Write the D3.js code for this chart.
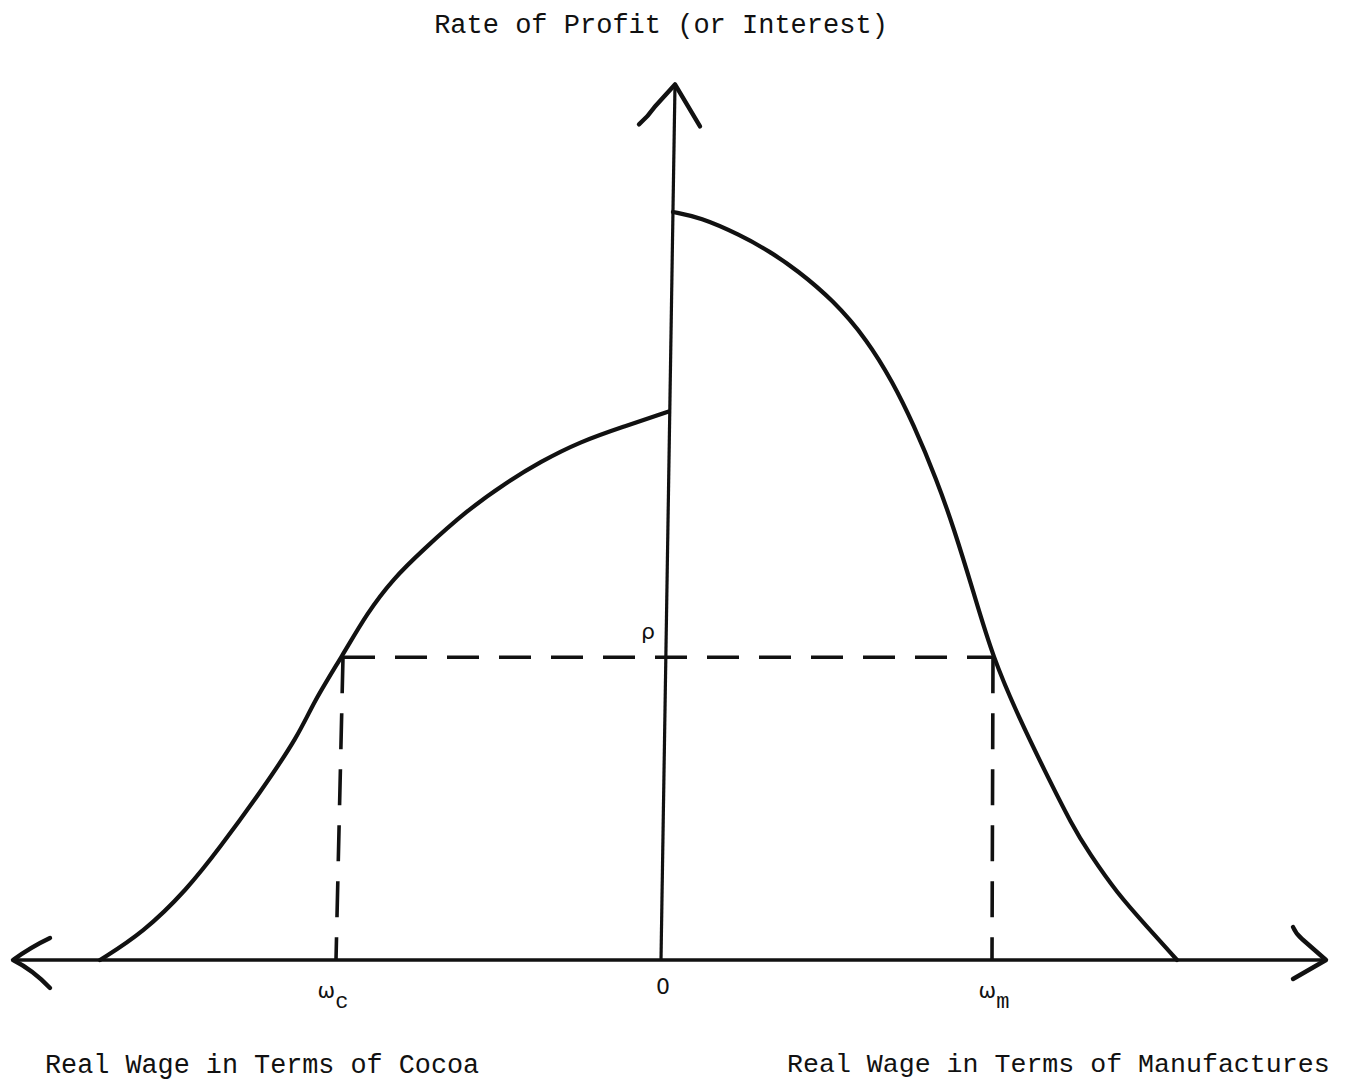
<!DOCTYPE html>
<html>
<head>
<meta charset="utf-8">
<script src="https://cdn.jsdelivr.net/npm/d3@7.9.0/dist/d3.min.js"></script>
<style>
  html, body { margin: 0; padding: 0; background: #fff; }
  svg { display: block; }
  text { font-family: "Liberation Mono", "DejaVu Sans Mono", monospace; fill: #111; }
  .greek { font-family: "DejaVu Sans", "Liberation Sans", sans-serif; }
</style>
</head>
<body>
<svg id="chart" width="1351" height="1089"></svg>
<script>
// Right-hand curve: real wage in terms of manufactures vs rate of profit
const manufWage   = [0.24, 0.78, 1.58, 2.18, 2.72, 3.44, 4.12, 4.64, 5.04, 5.52, 5.86, 6.24, 6.64, 7.18, 7.64, 8.24, 8.56, 9.12, 9.72, 10.32];
const manufProfit = [8.50, 8.44, 8.24, 8.05, 7.84, 7.50, 7.05, 6.56, 6.10, 5.45, 4.90, 4.20, 3.43, 2.73, 2.19, 1.51, 1.22, 0.76, 0.38, 0];

// Left-hand curve: real wage in terms of cocoa vs rate of profit
const cocoaWage   = [-0.14, 0.76, 1.62, 2.42, 3.08, 3.88, 4.76, 5.36, 5.88, 6.36, 6.96, 7.24, 8.02, 8.82, 9.48, 10.36, 11.22];
const cocoaProfit = [6.23, 6.06, 5.89, 5.66, 5.43, 5.11, 4.66, 4.33, 3.94, 3.47, 2.92, 2.56, 1.90, 1.28, 0.80, 0.31, 0];

// Given rate of profit and the wages it implies (top / bottom of the hand-drawn droplines)
const rho = 3.44;
const omegaC = [6.36, 6.50];
const omegaM = [6.64, 6.62];

// Axis extents (wage units, profit units)
const cocoaMax = 12.96;
const manufMax = 13.3;
const profitMax = 9.95;
const axisLean = 0.28;   // the vertical axis is drawn leaning slightly right

const title = "Rate of Profit (or Interest)";
const cocoaTitle = "Real Wage in Terms of Cocoa";
const manufTitle = "Real Wage in Terms of Manufactures";

const svg = d3.select('#chart');

const xM = d3.scaleLinear().domain([0, 13.3]).range([661, 1326]);
const xC = d3.scaleLinear().domain([0, 12.96]).range([661, 13]);
const y = d3.scaleLinear().domain([0, 10]).range([960, 80]);

const ink = '#111';

// Axes
const hAxis = [[xC(cocoaMax), y(0)], [xM(manufMax), y(0)]];
const vAxis = [[xM(0), y(0)], [xM(axisLean), y(profitMax)]];

svg.append('line')
    .attr('x1', hAxis[0][0]).attr('y1', hAxis[0][1])
    .attr('x2', hAxis[1][0]).attr('y2', hAxis[1][1])
    .attr('stroke', ink).attr('stroke-width', 3.6);

svg.append('line')
    .attr('x1', vAxis[0][0]).attr('y1', vAxis[0][1])
    .attr('x2', vAxis[1][0]).attr('y2', vAxis[1][1])
    .attr('stroke', ink).attr('stroke-width', 3.2);

// Hand-drawn arrowheads
const arrow = (d) => svg.append('path')
    .attr('d', d)
    .attr('fill', 'none')
    .attr('stroke', ink)
    .attr('stroke-width', 4.4)
    .attr('stroke-linecap', 'round')
    .attr('stroke-linejoin', 'round');

let [lx, ly] = hAxis[0];
arrow(`M${lx + 37},${ly - 22} Q${lx + 18},${ly - 13} ${lx},${ly} Q${lx + 20},${ly + 10} ${lx + 37},${ly + 28}`);
let [rx, ry] = hAxis[1];
arrow(`M${rx - 33},${ry - 33} Q${rx - 30},${ry - 26} ${rx - 24},${ry - 21} L${rx},${ry} L${rx - 33},${ry + 19}`);
let [tx, ty] = vAxis[1];
arrow(`M${tx - 36},${ty + 40} Q${tx - 27},${ty + 32} ${tx - 20},${ty + 22} L${tx},${ty} L${tx + 25},${ty + 42}`);

// Curves
const line = d3.line().curve(d3.curveBasis);

const manufPts = manufWage.map((w, i) => [xM(w), y(manufProfit[i])]);
const cocoaPts = cocoaWage.map((w, i) => [xC(w), y(cocoaProfit[i])]);

[manufPts, cocoaPts].forEach(pts => {
    svg.append('path')
        .attr('d', line(pts))
        .attr('fill', 'none')
        .attr('stroke', ink)
        .attr('stroke-width', 4.2)
        .attr('stroke-linecap', 'round')
        .attr('stroke-linejoin', 'round');
});

// Dashed guides at the given profit rate
const dashed = (x1, y1, x2, y2, dash) => svg.append('line')
    .attr('x1', x1).attr('y1', y1).attr('x2', x2).attr('y2', y2)
    .attr('stroke', ink)
    .attr('stroke-width', 3.6)
    .attr('stroke-dasharray', dash);

dashed(xC(omegaC[0]), y(rho), xM(omegaM[0]), y(rho), '32 20');
dashed(xC(omegaC[0]), y(rho), xC(omegaC[1]), y(0), '36 20');
dashed(xM(omegaM[0]), y(rho), xM(omegaM[1]), y(0), '36 20');

// Labels
svg.append('text')
    .attr('x', xM(0)).attr('y', 33)
    .attr('text-anchor', 'middle')
    .attr('font-size', 27)
    .text(title);

svg.append('text')
    .attr('x', 45).attr('y', 1073)
    .attr('font-size', 26.8)
    .text(cocoaTitle);

svg.append('text')
    .attr('x', 787).attr('y', 1072)
    .attr('font-size', 26.6)
    .text(manufTitle);

svg.append('text')
    .attr('class', 'greek')
    .attr('x', xM(0) - 13).attr('y', y(rho) - 18)
    .attr('text-anchor', 'middle')
    .attr('font-size', 22)
    .text('ρ');

svg.append('text')
    .attr('class', 'greek')
    .attr('x', xM(0) + 2).attr('y', 994)
    .attr('text-anchor', 'middle')
    .attr('font-size', 22)
    .text('0');

const wageLabel = (x, sub) => {
    const t = svg.append('text')
        .attr('x', x).attr('y', 998)
        .attr('text-anchor', 'middle');
    t.append('tspan').attr('class', 'greek').attr('font-size', 21).text('ω');
    t.append('tspan').attr('font-size', 22).attr('dy', 10).text(sub);
};
wageLabel(xC(omegaC[1]) - 3, 'c');
wageLabel(xM(omegaM[1]) + 2, 'm');
</script>
</body>
</html>
